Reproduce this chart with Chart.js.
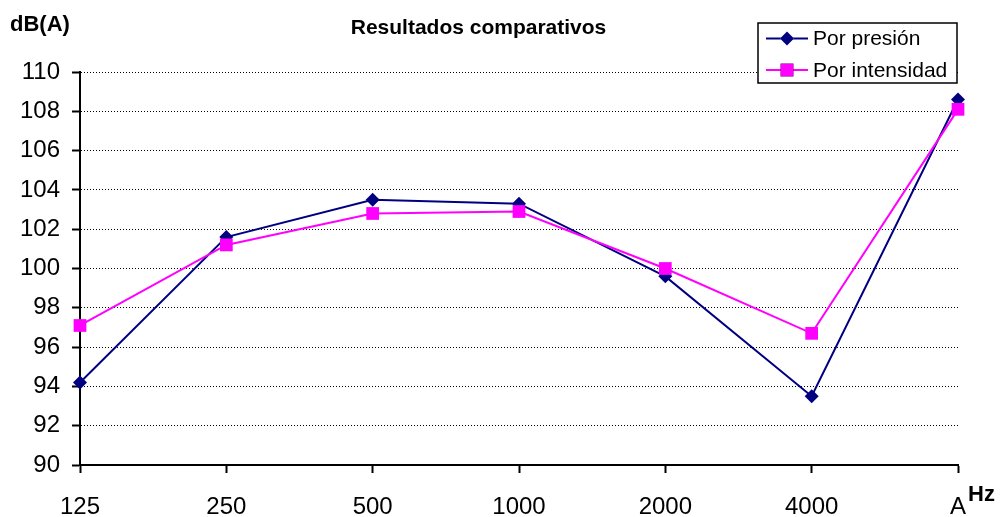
<!DOCTYPE html>
<html>
<head>
<meta charset="utf-8">
<title>Resultados comparativos</title>
<script src="https://cdn.jsdelivr.net/npm/chart.js@4/dist/chart.umd.min.js"></script>
<style>
  html, body { margin: 0; padding: 0; background: #ffffff; }
  #wrap { width: 1001px; height: 517px; }
</style>
</head>
<body>
<div id="wrap"><canvas id="c" width="1001" height="517"></canvas></div>
<script>
// Frequency bands (Hz) plus the overall A-weighted level
const categories = ['125', '250', '500', '1000', '2000', '4000', 'A'];

// Levels in dB(A)
const porPresion    = [94.2, 101.6, 103.5, 103.3, 99.6, 93.5, 108.6];
const porIntensidad = [97.1, 101.2, 102.8, 102.9, 100.0, 96.7, 108.1];

const seriesNames = ['Por presión', 'Por intensidad'];

// Y axis range and step
const yMin = 90;
const yMax = 110;
const yStep = 2;

const FONT = '"Liberation Sans", Arial, Helvetica, sans-serif';
const NAVY = '#000080';
const MAGENTA = '#ff00ff';

// Title, axis captions and the boxed legend
const decorations = {
  id: 'decorations',
  afterDraw(chart) {
    const ctx = chart.ctx;
    ctx.save();
    ctx.fillStyle = '#000';

    // title
    ctx.font = 'bold 21px ' + FONT;
    ctx.textAlign = 'center';
    ctx.textBaseline = 'alphabetic';
    ctx.fillText('Resultados comparativos', 478.5, 34);

    // unit captions
    ctx.font = 'bold 22px ' + FONT;
    ctx.textAlign = 'left';
    ctx.fillText('dB(A)', 10, 31);
    ctx.fillText('Hz', 968, 501);

    // legend box
    const bx = 758, by = 23, bw = 199, bh = 60;
    ctx.fillStyle = '#fff';
    ctx.fillRect(bx, by, bw, bh);
    ctx.strokeStyle = '#000';
    ctx.lineWidth = 1.5;
    ctx.strokeRect(bx, by, bw, bh);

    const rows = [38.5, 70];
    chart.data.datasets.forEach((ds, i) => {
      const y = rows[i];
      ctx.strokeStyle = ds.borderColor;
      ctx.lineWidth = 2;
      ctx.beginPath();
      ctx.moveTo(766, y);
      ctx.lineTo(808, y);
      ctx.stroke();
      Chart.helpers.drawPoint(ctx, {
        pointStyle: ds.pointStyle,
        radius: ds.pointRadius,
        rotation: 0,
        borderWidth: 0
      }, 787, y);
      ctx.fillStyle = ds.pointBackgroundColor;
      ctx.fill();
      ctx.fillStyle = '#000';
      ctx.font = '21px ' + FONT;
      ctx.textAlign = 'left';
      ctx.textBaseline = 'middle';
      ctx.fillText(ds.label, 813, y + 1);
    });
    ctx.restore();
  }
};

new Chart(document.getElementById('c'), {
  type: 'line',
  data: {
    labels: categories,
    datasets: [
      {
        label: seriesNames[0],
        data: porPresion,
        borderColor: NAVY,
        backgroundColor: NAVY,
        pointBackgroundColor: NAVY,
        pointBorderColor: NAVY,
        pointStyle: 'rectRot',
        pointRadius: 7,
        pointBorderWidth: 0,
        borderWidth: 2,
        tension: 0,
        fill: false,
        order: 1
      },
      {
        label: seriesNames[1],
        data: porIntensidad,
        borderColor: MAGENTA,
        backgroundColor: MAGENTA,
        pointBackgroundColor: MAGENTA,
        pointBorderColor: MAGENTA,
        pointStyle: 'rect',
        pointRadius: 9,
        pointBorderWidth: 0,
        borderWidth: 2,
        tension: 0,
        fill: false,
        order: 0
      }
    ]
  },
  options: {
    responsive: false,
    animation: false,
    devicePixelRatio: 1,
    layout: { padding: { top: 72, right: 43, left: 0, bottom: 0 } },
    plugins: {
      legend: { display: false },
      title: { display: false },
      tooltip: { enabled: false }
    },
    scales: {
      x: {
        type: 'category',
        offset: false,
        grid: {
          display: true,
          drawOnChartArea: false,
          drawTicks: true,
          tickLength: 8,
          tickWidth: 2,
          tickColor: '#000',
          offset: false
        },
        border: { display: true, color: '#000', width: 2 },
        ticks: {
          color: '#000',
          font: { family: FONT, size: 24 },
          padding: 20,
          maxRotation: 0,
          autoSkip: false
        },
        afterFit(scale) { scale.height = 52; }
      },
      y: {
        min: yMin,
        max: yMax,
        grid: {
          color: '#000',
          lineWidth: 1,
          drawTicks: true,
          tickLength: 8,
          tickWidth: 2,
          tickColor: '#000',
          tickBorderDash: []
        },
        border: { display: true, color: '#000', width: 2, dash: [1, 2] },
        ticks: {
          stepSize: yStep,
          color: '#000',
          font: { family: FONT, size: 24 },
          padding: 12
        },
        afterFit(scale) { scale.width = 80; }
      }
    }
  },
  plugins: [decorations]
});
</script>
</body>
</html>
